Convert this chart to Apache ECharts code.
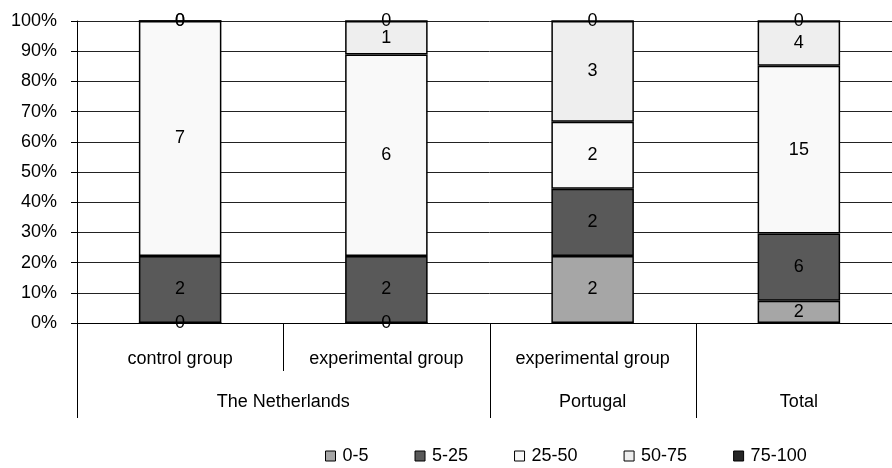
<!DOCTYPE html>
<html>
<head>
<meta charset="utf-8">
<style>
  html, body { margin: 0; padding: 0; background: #fff; overflow: hidden; width: 892px; height: 468px; }
  #chart { width: 902px; height: 468px; }
</style>
<script src="https://cdn.jsdelivr.net/npm/echarts@6/dist/echarts.min.js"></script>
</head>
<body>
<div id="chart"></div>
<script>
// Groups on the category axis (inner level) and the countries they belong to (outer level)
const groups = ['control group', 'experimental group', 'experimental group', ''];
const countries = ['The Netherlands', 'Portugal', 'Total'];
const countrySpans = [[0, 1], [2, 2], [3, 3]];

// Score bands and the number of respondents in each band per group
const bands = ['0-5', '5-25', '25-50', '50-75', '75-100'];
const counts0to5 = [0, 0, 2, 2];
const counts5to25 = [2, 2, 2, 6];
const counts25to50 = [7, 6, 2, 15];
const counts50to75 = [0, 1, 3, 4];
const counts75to100 = [0, 0, 0, 0];
const bandColors = ['#a6a6a6', '#595959', '#f9f9f9', '#eeeeee', '#262626'];

const yTicks = [0, 10, 20, 30, 40, 50, 60, 70, 80, 90, 100];

const countsByBand = [counts0to5, counts5to25, counts25to50, counts50to75, counts75to100];
const totals = groups.map((_, i) => countsByBand.reduce((s, arr) => s + arr[i], 0));

const FONT = '"Liberation Sans", Arial, sans-serif';
const FS = 18;

const series = bands.map((name, b) => ({
  name: name,
  type: 'bar',
  stack: 'share',
  barWidth: '40%',
  data: countsByBand[b].map((c, i) => c / totals[i] * 100),
  itemStyle: { color: bandColors[b], borderColor: '#000', borderWidth: 1.5 },
  label: {
    show: true,
    position: 'inside',
    color: '#000',
    fontFamily: FONT,
    fontSize: FS,
    formatter: p => String(countsByBand[b][p.dataIndex])
  },
  emphasis: { disabled: true }
}));

const chart = echarts.init(document.getElementById('chart'), null, { renderer: 'canvas' });

chart.setOption({
  animation: false,
  backgroundColor: '#fff',
  textStyle: { fontFamily: FONT },
  grid: { left: 77, top: 21, bottom: 145, right: 0, containLabel: false },
  legend: {
    left: 320,
    top: 442,
    itemWidth: 10,
    itemHeight: 10,
    itemGap: 46,
    icon: 'rect',
    textStyle: { fontFamily: FONT, fontSize: FS, color: '#000', padding: [0, 0, 0, 2] },
    itemStyle: { borderColor: '#000', borderWidth: 1 },
    data: bands
  },
  xAxis: {
    type: 'category',
    data: groups,
    axisLine: { show: true, lineStyle: { color: '#000', width: 1 } },
    axisTick: { show: false },
    axisLabel: { interval: 0, margin: 27, color: '#000', fontFamily: FONT, fontSize: FS },
    splitLine: { show: false }
  },
  yAxis: {
    type: 'value',
    min: 0,
    max: 100,
    interval: 10,
    axisLine: { show: true, lineStyle: { color: '#000', width: 1 } },
    axisTick: { show: true, inside: false, length: 6, lineStyle: { color: '#000' } },
    axisLabel: {
      margin: 20,
      color: '#000',
      fontFamily: FONT,
      fontSize: FS,
      formatter: v => yTicks.includes(v) ? v + '%' : ''
    },
    splitLine: { show: true, lineStyle: { color: '#222', width: 1 } }
  },
  series: series
});

// Two-level category axis: group separators (short), country names and country separators (long)
function drawAxisLevels() {
  const y0 = chart.convertToPixel({ yAxisIndex: 0 }, 0);
  const px = i => chart.convertToPixel({ xAxisIndex: 0 }, i);
  const step = px(1) - px(0);
  const crisp = x => Math.round(x) + 0.5;
  const elements = [];
  const countryEdges = new Set();
  countrySpans.forEach((span, k) => {
    const a = px(span[0]) - step / 2;
    const b = px(span[1]) + step / 2;
    countryEdges.add(Math.round(a));
    countryEdges.add(Math.round(b));
    elements.push({
      type: 'text',
      x: (a + b) / 2,
      y: y0 + 79,
      style: {
        text: countries[k],
        fill: '#000',
        font: FS + 'px ' + FONT,
        align: 'center',
        verticalAlign: 'middle'
      }
    });
  });
  for (let i = 0; i <= groups.length; i++) {
    const x = px(0) - step / 2 + i * step;
    const long = countryEdges.has(Math.round(x));
    elements.push({
      type: 'line',
      shape: { x1: crisp(x), y1: y0, x2: crisp(x), y2: y0 + (long ? 95 : 48) },
      style: { stroke: '#000', lineWidth: 1 }
    });
  }
  chart.setOption({ graphic: elements });
}
drawAxisLevels();
</script>
</body>
</html>
